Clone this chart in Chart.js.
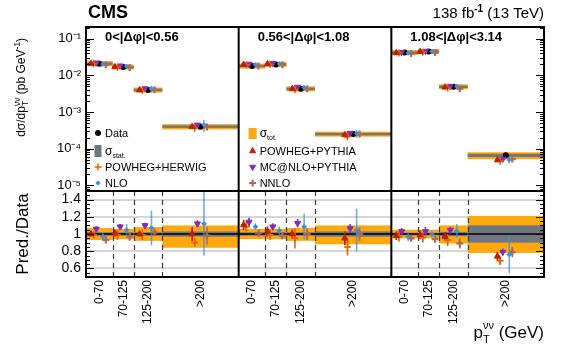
<!DOCTYPE html>
<html><head><meta charset="utf-8">
<script src="https://cdn.jsdelivr.net/npm/chart.js@4.4.1/dist/chart.umd.min.js"></script>
<style>
html,body{margin:0;padding:0;background:#fff;width:580px;height:348px;overflow:hidden}
canvas{position:absolute;left:0;top:0}
</style></head>
<body>
<canvas id="cTop" width="580" height="348"></canvas>
<canvas id="cBot" width="580" height="348"></canvas>
<script>
// ---------------- DATA ----------------
const panelLabels = ['0<|Δφ|<0.56', '0.56<|Δφ|<1.08', '1.08<|Δφ|<3.14'];
const binLabels = ['0-70', '70-125', '125-200', '>200'];
const binEdges = [0, 70, 125, 200, 400];           // last edge = display edge of the overflow bin
const yTickValues = [1e-5, 1e-4, 1e-3, 1e-2, 1e-1];
const ratioTickValues = [0.6, 0.8, 1, 1.2, 1.4];

// measured cross section (pb/GeV), 3 panels x 4 bins
const xsecData = [0.021, 0.017, 0.0040, 0.00040,
                  0.018, 0.020, 0.0043, 0.00025,
                  0.042, 0.045, 0.0049, 0.000066];
// relative uncertainties of the data
const totUp   = [0.07, 0.06, 0.08, 0.10,  0.06, 0.06, 0.07, 0.10,  0.05, 0.05, 0.10, 0.21];
const totDown = [0.07, 0.06, 0.08, 0.16,  0.06, 0.06, 0.08, 0.12,  0.05, 0.05, 0.11, 0.22];
const statUnc = [0.02, 0.02, 0.02, 0.03,  0.02, 0.02, 0.02, 0.03,  0.015, 0.015, 0.025, 0.10];

// prediction / data ratios and their relative uncertainties
const ratioPowhegPythia = [1.00, 1.01, 1.00, 1.00,  1.105, 1.03, 1.00, 0.95,  0.98, 0.99, 0.97, 0.74];
const errPowhegPythia   = [0.03, 0.04, 0.03, 0.08,  0.06, 0.06, 0.05, 0.08,  0.05, 0.05, 0.05, 0.05];
const ratioPowhegHerwig = [0.99, 0.99, 0.99, 0.90,  1.085, 0.99, 0.95, 0.85,  0.97, 0.96, 0.93, 0.69];
const errPowhegHerwig   = [0.04, 0.06, 0.06, 0.05,  0.07, 0.06, 0.12, 0.10,  0.06, 0.06, 0.07, 0.05];
const ratioMcatnlo      = [1.06, 1.085, 1.10, 1.12,  1.14, 1.085, 1.125, 1.065,  1.03, 1.03, 1.045, 0.79];
const errMcatnlo        = [0.03, 0.03, 0.03, 0.04,  0.05, 0.04, 0.05, 0.05,  0.04, 0.05, 0.04, 0.04];
const ratioNLO          = [0.97, 1.045, 1.07, 1.12,  1.085, 1.04, 1.085, 1.045,  0.97, 1.00, 1.035, 0.76];
const errNLO            = [0.04, 0.07, 0.20, 0.37,  0.04, 0.05, 0.15, 0.25,  0.05, 0.04, 0.08, 0.22];
const ratioNNLO         = [0.93, 0.97, 1.02, 0.98,  1.01, 0.98, 1.00, 1.00,  0.95, 0.94, 0.89, 0.79];
const errNNLO           = [0.03, 0.05, 0.03, 0.10,  0.04, 0.04, 0.07, 0.08,  0.03, 0.03, 0.06, 0.06];

// ---------------- STYLE ----------------
const FONT = "'Liberation Sans', Arial, Helvetica, sans-serif";
const PANEL_SPAN = 400;            // x-units per panel
const C = {tot:'#ffa90e', stat:'#717581', pp:'#bd1f01', ph:'#e76300', mc:'#832db6', nlo:'#3f90da', nnlo:'#a96b59'};
const seriesDefs = [
  {label:'POWHEG+PYTHIA', ratio:ratioPowhegPythia, err:errPowhegPythia,
   st:{pointStyle:'triangle', rotation:0, color:C.pp, radius:3.5, bw:1, shift:-22, errColor:C.pp}},
  {label:'POWHEG+HERWIG', ratio:ratioPowhegHerwig, err:errPowhegHerwig,
   st:{pointStyle:'cross', rotation:0, color:C.ph, radius:3.5, bw:1.5, shift:-15, errColor:C.ph}},
  {label:'MC@NLO+PYTHIA', ratio:ratioMcatnlo, err:errMcatnlo,
   st:{pointStyle:'triangle', rotation:180, color:C.mc, radius:3.5, bw:1, shift:-8, errColor:C.mc}},
  {label:'NLO', ratio:ratioNLO, err:errNLO,
   st:{pointStyle:'rectRot', rotation:0, color:C.nlo, radius:2.2, bw:1, shift:9, errColor:'rgba(63,144,218,0.75)'}},
  {label:'NNLO', ratio:ratioNNLO, err:errNNLO,
   st:{pointStyle:'cross', rotation:0, color:C.nnlo, radius:3.5, bw:2.2, shift:17, errColor:C.nnlo}},
];

const nPanels = panelLabels.length, nBins = binLabels.length;
const binCenter = b => (binEdges[b] + binEdges[b + 1]) / 2;
const xOf = (i, shift) => Math.floor(i / nBins) * PANEL_SPAN + binCenter(i % nBins) + (shift || 0);

const sup = {'-':'⁻','0':'⁰','1':'¹','2':'²','3':'³','4':'⁴','5':'⁵','6':'⁶','7':'⁷','8':'⁸','9':'⁹'};
const pow10Label = v => '10' + String(Math.round(Math.log10(v))).split('').map(c => sup[c]).join('');

// ---------------- rich text helper ----------------
function layoutRich(ctx, parts) {
  let cur = 0, prevStart = 0, prevW = 0; const items = [];
  for (const p of parts) {
    ctx.font = (p.bold ? 'bold ' : '') + p.size + 'px ' + FONT;
    const w = ctx.measureText(p.t).width;
    let sx;
    if (p.stack) { sx = prevStart; cur = prevStart + Math.max(prevW, w); }
    else { sx = cur; cur += w; }
    items.push(Object.assign({}, p, {sx, w})); prevStart = sx; prevW = w;
  }
  return {items, width: cur};
}
function drawRich(ctx, parts, x, y, align) {
  const L = layoutRich(ctx, parts);
  const x0 = align === 'right' ? x - L.width : align === 'center' ? x - L.width / 2 : x;
  ctx.textAlign = 'left'; ctx.textBaseline = 'alphabetic'; ctx.fillStyle = '#000';
  for (const it of L.items) {
    ctx.font = (it.bold ? 'bold ' : '') + it.size + 'px ' + FONT;
    ctx.fillText(it.t, x0 + it.sx, y + (it.dy || 0));
  }
}
function clipArea(ctx, a) { ctx.beginPath(); ctx.rect(a.left, a.top, a.right - a.left, a.bottom - a.top); ctx.clip(); }

// ---------------- plugins ----------------
const bandsPlugin = {
  id: 'bands',
  beforeDatasetsDraw(chart) {
    const {ctx, chartArea: a, scales: {x, y}} = chart;
    const isRatio = chart.options.plugins.bands.ratio;
    ctx.save(); clipArea(ctx, a);
    for (let i = 0; i < xsecData.length; i++) {
      const p = Math.floor(i / nBins), b = i % nBins;
      const x1 = x.getPixelForValue(p * PANEL_SPAN + binEdges[b]);
      const x2 = x.getPixelForValue(p * PANEL_SPAN + binEdges[b + 1]);
      const ref = isRatio ? 1 : xsecData[i];
      const yc = y.getPixelForValue(ref);
      let t1 = y.getPixelForValue(ref * (1 + totUp[i])), t2 = y.getPixelForValue(ref * (1 - totDown[i]));
      let s1 = y.getPixelForValue(ref * (1 + statUnc[i])), s2 = y.getPixelForValue(ref * (1 - statUnc[i]));
      if (!isRatio) { t1 = Math.min(t1, yc - 2.5); t2 = Math.max(t2, yc + 2.5); s1 = Math.min(s1, yc - 1.2); s2 = Math.max(s2, yc + 1.2); }
      ctx.fillStyle = C.tot; ctx.fillRect(x1, t1, x2 - x1, t2 - t1);
      ctx.fillStyle = C.stat; ctx.fillRect(x1, s1, x2 - x1, s2 - s1);
      if (isRatio) {
        ctx.strokeStyle = '#000'; ctx.lineWidth = 1.5;
        ctx.beginPath(); ctx.moveTo(x1, yc); ctx.lineTo(x2, yc); ctx.stroke();
      }
    }
    if (isRatio) {
      ctx.setLineDash([5, 4]); ctx.lineWidth = 1.2; ctx.strokeStyle = '#3a3a3a';
      for (let p = 0; p < nPanels; p++) for (let b = 1; b < nBins; b++) {
        const xx = Math.round(x.getPixelForValue(p * PANEL_SPAN + binEdges[b])) + 0.5;
        ctx.beginPath(); ctx.moveTo(xx, a.top); ctx.lineTo(xx, a.bottom); ctx.stroke();
      }
      ctx.setLineDash([]);
    }
    // error bars
    chart.data.datasets.forEach((ds, di) => {
      if (!ds.errAbs) return;
      const meta = chart.getDatasetMeta(di);
      ctx.strokeStyle = ds.errColor; ctx.lineWidth = 1.6;
      meta.data.forEach((pt, j) => {
        const v = ds.data[j].y, e = ds.errAbs[j];
        const yh = y.getPixelForValue(v + e), yl = y.getPixelForValue(Math.max(v - e, 1e-9));
        ctx.beginPath(); ctx.moveTo(pt.x, yh); ctx.lineTo(pt.x, yl); ctx.stroke();
        ctx.beginPath(); ctx.moveTo(pt.x - 2.5, pt.y); ctx.lineTo(pt.x + 2.5, pt.y); ctx.stroke();
      });
    });
    ctx.restore();
  },
  afterDraw(chart) {
    const {ctx, chartArea: a, scales: {x, y}} = chart;
    const isRatio = chart.options.plugins.bands.ratio;
    ctx.save();
    ctx.strokeStyle = '#000'; ctx.lineWidth = 1;
    // axis ticks on left and right edges
    if (!isRatio) {
      for (let e = -6; e <= 0; e++) for (let k = 1; k <= 9; k++) {
        const v = k * Math.pow(10, e);
        if (v < y.min || v > y.max) continue;
        const yy = Math.round(y.getPixelForValue(v)) + 0.5, len = k === 1 ? 8 : 4;
        ctx.beginPath(); ctx.moveTo(a.left, yy); ctx.lineTo(a.left + len, yy);
        ctx.moveTo(a.right, yy); ctx.lineTo(a.right - len, yy); ctx.stroke();
      }
    } else {
      for (let k = 11; k <= 29; k++) {
        const v = k * 0.05; const yy = Math.round(y.getPixelForValue(v)) + 0.5;
        const len = (k % 4 === 0) ? 8 : 4;
        ctx.beginPath(); ctx.moveTo(a.left, yy); ctx.lineTo(a.left + len, yy);
        ctx.moveTo(a.right, yy); ctx.lineTo(a.right - len, yy); ctx.stroke();
      }
    }
    // panel separators
    ctx.lineWidth = 2;
    for (let p = 1; p < nPanels; p++) {
      const xx = x.getPixelForValue(p * PANEL_SPAN);
      ctx.beginPath(); ctx.moveTo(xx, a.top); ctx.lineTo(xx, a.bottom); ctx.stroke();
    }
    ctx.strokeRect(a.left, a.top, a.right - a.left, a.bottom - a.top);
    ctx.restore();
  }
};

const decorTop = {
  id: 'decorTop',
  afterDraw(chart) {
    const {ctx, chartArea: a, scales: {x}} = chart;
    ctx.save();
    // CMS label & lumi
    drawRich(ctx, [{t:'CMS', size:18, bold:true}], a.left + 2, 18, 'left');
    drawRich(ctx, [{t:'138 fb', size:15}, {t:'-1', size:10, bold:true, dy:-6}, {t:' (13 TeV)', size:15}], a.right, 18, 'right');
    // panel labels
    for (let p = 0; p < nPanels; p++) {
      const xl = x.getPixelForValue(p * PANEL_SPAN) + 19;
      drawRich(ctx, [{t:panelLabels[p], size:13, bold:true}], xl, 41, 'left');
    }
    // y title (rotated)
    ctx.translate(25, 38); ctx.rotate(-Math.PI / 2);
    drawRich(ctx, [{t:'dσ/dp', size:12}, {t:'T', size:8.5, dy:3}, {t:'νν', size:8.5, dy:-5.5, stack:true},
                   {t:' (pb GeV', size:12}, {t:'-1', size:8.5, dy:-5.5}, {t:')', size:12}], 0, 0, 'right');
    ctx.restore();
    // legend
    ctx.save();
    const H = Chart.helpers;
    const mk = (st, px, py) => {
      ctx.fillStyle = st.color; ctx.strokeStyle = st.color; ctx.lineWidth = st.bw;
      H.drawPoint(ctx, {pointStyle: st.pointStyle, radius: st.radius, rotation: st.rotation, borderWidth: st.bw}, px, py);
    };
    const txt = (parts, px, py) => drawRich(ctx, parts, px, py + 4, 'left');
    const col1x = x.getPixelForValue(0) + 12, col2x = x.getPixelForValue(PANEL_SPAN) + 14;
    const rows = [133, 151, 167, 183];
    // column 1
    ctx.fillStyle = '#000'; ctx.beginPath(); ctx.arc(col1x, rows[0], 3, 0, 2 * Math.PI); ctx.fill();
    txt([{t:'Data', size:11}], col1x + 7, rows[0]);
    ctx.fillStyle = C.stat; ctx.fillRect(col1x - 3.5, rows[1] - 6, 7, 12);
    txt([{t:'σ', size:12}, {t:'stat.', size:7, dy:3}], col1x + 7, rows[1]);
    mk(seriesDefs[1].st, col1x, rows[2]); txt([{t:seriesDefs[1].label, size:11}], col1x + 7, rows[2]);
    mk(seriesDefs[3].st, col1x, rows[3]); txt([{t:seriesDefs[3].label, size:11}], col1x + 7, rows[3]);
    // column 2
    ctx.fillStyle = C.tot; ctx.fillRect(col2x - 4, rows[0] - 5, 8, 11);
    txt([{t:'σ', size:12}, {t:'tot.', size:7, dy:3}], col2x + 7, rows[0]);
    mk(seriesDefs[0].st, col2x, rows[1]); txt([{t:seriesDefs[0].label, size:11}], col2x + 7, rows[1]);
    mk(seriesDefs[2].st, col2x, rows[2]); txt([{t:seriesDefs[2].label, size:11}], col2x + 7, rows[2]);
    mk(seriesDefs[4].st, col2x, rows[3]); txt([{t:seriesDefs[4].label, size:11}], col2x + 7, rows[3]);
    ctx.restore();
  }
};

const decorBot = {
  id: 'decorBot',
  afterDraw(chart) {
    const {ctx, chartArea: a} = chart;
    ctx.save();
    ctx.translate(28, (a.top + a.bottom) / 2); ctx.rotate(-Math.PI / 2);
    drawRich(ctx, [{t:'Pred./Data', size:17}], 0, 0, 'center');
    ctx.restore();
    ctx.save();
    drawRich(ctx, [{t:'p', size:17}, {t:'T', size:11, dy:5}, {t:'νν', size:11, dy:-9, stack:true}, {t:' (GeV)', size:17}], a.right, 338, 'right');
    ctx.restore();
  }
};

// ---------------- datasets ----------------
function makeDatasets(isRatio) {
  const out = seriesDefs.map(s => ({
    label: s.label,
    data: s.ratio.map((r, i) => ({x: xOf(i, s.st.shift), y: isRatio ? r : r * xsecData[i]})),
    errAbs: s.err.map((e, i) => isRatio ? e : e * s.ratio[i] * xsecData[i]),
    errColor: s.st.errColor,
    pointStyle: s.st.pointStyle, rotation: s.st.rotation, pointRadius: s.st.radius,
    backgroundColor: s.st.color, borderColor: s.st.color, borderWidth: s.st.bw,
  }));
  if (!isRatio) out.push({
    label: 'Data', data: xsecData.map((v, i) => ({x: xOf(i, 0), y: v})),
    pointStyle: 'circle', pointRadius: 3, backgroundColor: '#000', borderColor: '#000', borderWidth: 0
  });
  return out;
}

const baseOpts = {responsive: false, animation: false, devicePixelRatio: 1, events: []};
const tickFont = s => ({family: FONT, size: s});

new Chart(document.getElementById('cTop'), {
  type: 'scatter',
  data: {datasets: makeDatasets(false)},
  options: Object.assign({}, baseOpts, {
    layout: {padding: {left: 0, right: 36, top: 27, bottom: 348 - 191}},
    plugins: {legend: {display: false}, tooltip: {enabled: false}, bands: {ratio: false}},
    scales: {
      x: {type: 'linear', min: 0, max: nPanels * PANEL_SPAN, display: false},
      y: {type: 'logarithmic', min: 7e-6, max: 0.21,
          afterFit(s) { s.width = 86; },
          afterBuildTicks(s) { s.ticks = yTickValues.map(v => ({value: v})); },
          ticks: {callback: v => pow10Label(v), font: tickFont(13), color: '#000', padding: 5, autoSkip: false},
          grid: {display: false, drawTicks: false}, border: {display: false}}
    }
  }),
  plugins: [bandsPlugin, decorTop]
});

new Chart(document.getElementById('cBot'), {
  type: 'scatter',
  data: {datasets: makeDatasets(true)},
  options: Object.assign({}, baseOpts, {
    layout: {padding: {left: 0, right: 36, top: 191, bottom: 0}},
    plugins: {legend: {display: false}, tooltip: {enabled: false}, bands: {ratio: true}},
    scales: {
      x: {type: 'linear', min: 0, max: nPanels * PANEL_SPAN,
          afterFit(s) { s.height = 348 - 277; },
          afterBuildTicks(s) { s.ticks = xsecData.map((v, i) => ({value: xOf(i, 0)})); },
          ticks: {autoSkip: false, minRotation: 90, maxRotation: 90, font: tickFont(12), color: '#000', padding: 3,
                  callback: (v, i) => binLabels[i % nBins]},
          grid: {display: false, drawTicks: false}, border: {display: false}},
      y: {type: 'linear', min: 0.5, max: 1.5,
          afterFit(s) { s.width = 86; },
          afterBuildTicks(s) { s.ticks = ratioTickValues.map(v => ({value: v})); },
          ticks: {callback: v => String(v), font: tickFont(14), color: '#000', padding: 5, autoSkip: false},
          grid: {drawTicks: false, lineWidth: 2,
                 color: c => (c.tick && Math.abs(c.tick.value - 1) < 1e-6) ? 'rgba(0,0,0,0)' : '#d6d6d6'},
          border: {display: false}}
    }
  }),
  plugins: [bandsPlugin, decorBot]
});
</script>
</body></html>
